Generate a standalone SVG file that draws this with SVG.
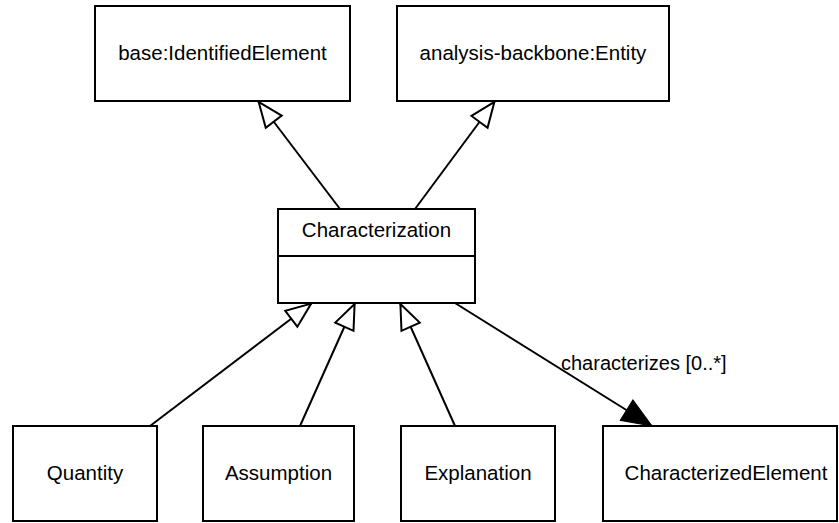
<svg xmlns="http://www.w3.org/2000/svg" width="839" height="523" viewBox="0 0 839 523">
  <style>
    .box { fill: #ffffff; stroke: #000000; stroke-width: 2; }
    .lbl { font-family: "Liberation Sans", Arial, sans-serif; font-size: 20.5px; fill: #000000; text-anchor: middle; }
    .edge { fill: none; stroke: #000000; stroke-width: 2; }
    .note { font-family: "Liberation Sans", Arial, sans-serif; font-size: 20px; fill: #000000; }
  </style>
  <defs>
    <!-- UML generalization: hollow triangle -->
    <marker id="gen" markerUnits="userSpaceOnUse" markerWidth="30" markerHeight="24" refX="0" refY="0" orient="auto" overflow="visible">
      <path d="M-1,0 L-26,-10 L-26,10 Z" fill="#ffffff" stroke="#000000" stroke-width="2" stroke-linejoin="miter"/>
    </marker>
    <!-- navigable association: filled triangle -->
    <marker id="nav" markerUnits="userSpaceOnUse" markerWidth="34" markerHeight="28" refX="0" refY="0" orient="auto" overflow="visible">
      <path d="M0,0 L-30,-12 L-30,12 Z" fill="#000000" stroke="#000000" stroke-width="1"/>
    </marker>
  </defs>

  <rect width="839" height="523" fill="#ffffff"/>

  <g id="connectors">
    <path class="edge" d="M340,209 L258,101" marker-end="url(#gen)"/>
    <path class="edge" d="M415,209 L495,101" marker-end="url(#gen)"/>
    <path class="edge" d="M150,426 L312,303" marker-end="url(#gen)"/>
    <path class="edge" d="M300,426 L355,303" marker-end="url(#gen)"/>
    <path class="edge" d="M455,426 L400,303" marker-end="url(#gen)"/>
    <path class="edge" d="M455,303 L652,426" marker-end="url(#nav)"/>
    <text class="note" x="561" y="370">characterizes [0..*]</text>
  </g>

  <g id="base-IdentifiedElement">
    <rect class="box" x="95" y="6" width="255" height="95"/>
    <text class="lbl" x="222.5" y="60">base:IdentifiedElement</text>
  </g>

  <g id="analysis-backbone-Entity">
    <rect class="box" x="397" y="6" width="272" height="95"/>
    <text class="lbl" x="533" y="60">analysis-backbone:Entity</text>
  </g>

  <g id="Characterization">
    <rect class="box" x="278" y="209" width="197" height="94"/>
    <line x1="278" y1="256" x2="475" y2="256" stroke="#000000" stroke-width="2"/>
    <text class="lbl" x="376.5" y="237">Characterization</text>
  </g>

  <g id="Quantity">
    <rect class="box" x="13" y="426" width="144" height="95"/>
    <text class="lbl" x="85" y="480">Quantity</text>
  </g>

  <g id="Assumption">
    <rect class="box" x="203" y="426" width="151" height="95"/>
    <text class="lbl" x="278.5" y="480">Assumption</text>
  </g>

  <g id="Explanation">
    <rect class="box" x="401" y="426" width="154" height="95"/>
    <text class="lbl" x="478" y="480">Explanation</text>
  </g>

  <g id="CharacterizedElement">
    <rect class="box" x="603" y="426" width="234" height="95"/>
    <text class="lbl" x="726" y="480">CharacterizedElement</text>
  </g>
</svg>
